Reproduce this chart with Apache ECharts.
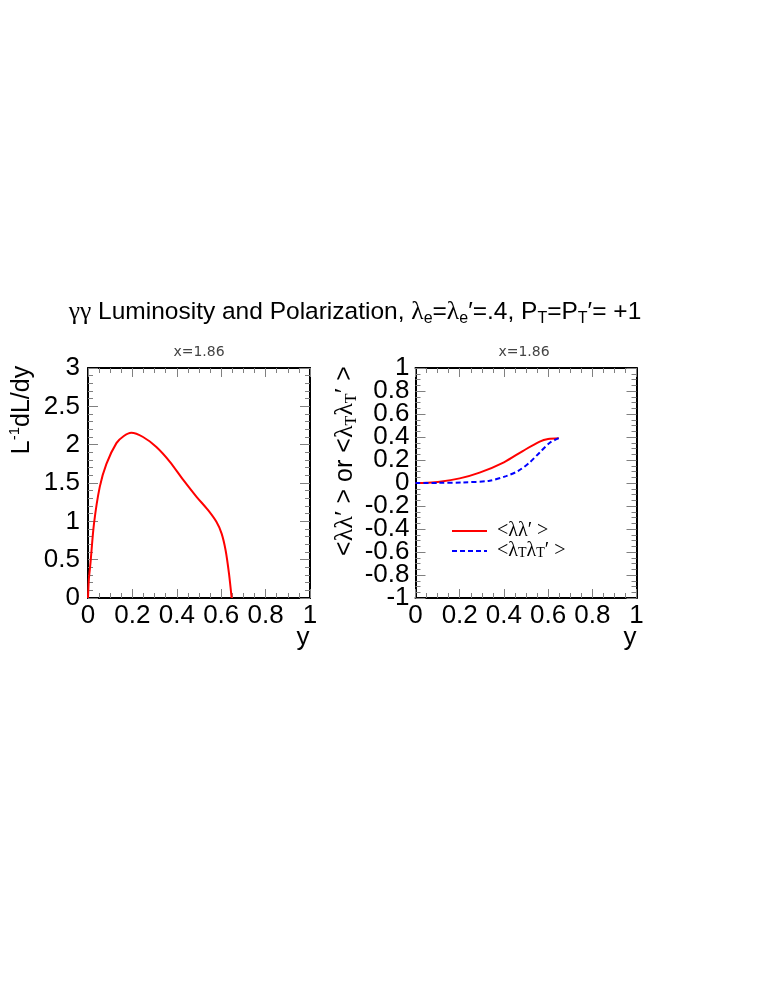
<!DOCTYPE html>
<html>
<head>
<meta charset="utf-8">
<script src="https://cdn.jsdelivr.net/npm/echarts@6/dist/echarts.min.js"></script>
<style>html,body{margin:0;padding:0;background:#fff}#c{width:763px;height:987px}</style>
</head>
<body>
<div id="c"></div>
<script>
// Left panel: luminosity spectrum
const lumX = [0, 0.004, 0.011, 0.027, 0.053, 0.083, 0.128, 0.16, 0.195, 0.248, 0.308, 0.368, 0.429, 0.489, 0.541, 0.579, 0.602, 0.62, 0.635, 0.647];
const lumY = [0, 0.25, 0.45, 0.97, 1.45, 1.75, 2.02, 2.11, 2.155, 2.10, 1.97, 1.78, 1.54, 1.32, 1.145, 0.99, 0.84, 0.62, 0.32, 0];
// Right panel: polarizations
const polX = [0, 0.05, 0.11, 0.2, 0.29, 0.4, 0.487, 0.562, 0.6, 0.648];
const polY = [0, 0.002, 0.01, 0.04, 0.09, 0.18, 0.28, 0.36, 0.383, 0.39];
const polTX = [0, 0.1, 0.214, 0.336, 0.41, 0.465, 0.517, 0.562, 0.608, 0.648];
const polTY = [0, 0.001, 0.005, 0.02, 0.06, 0.105, 0.18, 0.266, 0.35, 0.39];
const xTicks = [0, 0.2, 0.4, 0.6, 0.8, 1];
const lumTicks = [0, 0.5, 1, 1.5, 2, 2.5, 3];
const polTicks = [-1, -0.8, -0.6, -0.4, -0.2, 0, 0.2, 0.4, 0.6, 0.8, 1];

const zip = (a, b) => a.map((x, i) => [x, b[i]]);
const fmt = v => String(+(+v).toFixed(2));
const SANS = 'Liberation Sans, Arial, sans-serif';
const SERIF = 'Liberation Serif, Times New Roman, serif';
const tickGrey = '#808080';
const LABEL_FS = 26;

function xAx(grid, pos) {
  const bottom = pos === 'bottom';
  return {
    type: 'value', gridIndex: grid, position: pos,
    min: xTicks[0], max: xTicks[xTicks.length - 1], interval: xTicks[1] - xTicks[0],
    axisLine: { show: true, onZero: false, lineStyle: { color: '#000', width: 2 } },
    axisTick: { show: true, inside: true, length: 9, lineStyle: { color: tickGrey, width: 1 } },
    minorTick: { show: true, splitNumber: 4, length: 5, lineStyle: { color: tickGrey, width: 1 } },
    splitLine: { show: false },
    axisLabel: { show: bottom, color: '#000', fontFamily: SANS, fontSize: LABEL_FS, margin: 5,
      formatter: fmt, showMinLabel: true, showMaxLabel: true, hideOverlap: false }
  };
}
function yAx(grid, pos, ticks, minorSplit, showMin) {
  const left = pos === 'left';
  return {
    type: 'value', gridIndex: grid, position: pos,
    min: ticks[0], max: ticks[ticks.length - 1], interval: ticks[1] - ticks[0],
    axisLine: { show: true, onZero: false, lineStyle: { color: '#000', width: 2 } },
    axisTick: { show: true, inside: true, length: 10, lineStyle: { color: tickGrey, width: 1 } },
    minorTick: { show: true, splitNumber: minorSplit, length: 5, lineStyle: { color: tickGrey, width: 1 } },
    splitLine: { show: false },
    axisLabel: { show: left, color: '#000', fontFamily: SANS, fontSize: LABEL_FS, lineHeight: 18, margin: grid === 0 ? 8 : 6,
      formatter: fmt, showMinLabel: showMin, showMaxLabel: true, hideOverlap: false }
  };
}
// extra label-only axis carrying the bottom "-1" label of the right panel
const minLabelAxis = {
  type: 'value', gridIndex: 1, position: 'left',
  min: polTicks[0], max: polTicks[polTicks.length - 1], interval: polTicks[polTicks.length - 1] - polTicks[0],
  axisLine: { show: false }, axisTick: { show: false }, minorTick: { show: false }, splitLine: { show: false },
  axisLabel: { show: true, color: '#000', fontFamily: SANS, fontSize: LABEL_FS, lineHeight: 18, margin: 6,
    formatter: fmt, showMinLabel: true, showMaxLabel: false }
};

const subStyle = (fs, fam) => ({ fontSize: fs, fontFamily: fam, verticalAlign: 'bottom', lineHeight: fs });
const supStyle = (fs, fam) => ({ fontSize: fs, fontFamily: fam, verticalAlign: 'top', lineHeight: fs });
const noSym = { color: 'rgba(0,0,0,0)', borderColor: 'rgba(0,0,0,0)', borderWidth: 0, opacity: 0 };

const chart = echarts.init(document.getElementById('c'), null, { renderer: 'canvas' });
chart.setOption({
  animation: false,
  backgroundColor: '#fff',
  title: {
    text: '{g|γγ} Luminosity and Polarization, {g|λ}{sub|e}={g|λ}{sub|e}′=.4, P{sub|T}=P{sub|T}′= +1',
    left: 350, top: 292, textAlign: 'center',
    textStyle: {
      fontFamily: SANS, fontSize: 24.5, fontWeight: 'normal', color: '#000', lineHeight: 30,
      rich: {
        g: { fontFamily: SERIF, fontSize: 25.5, color: '#000', lineHeight: 30 },
        sub: Object.assign(subStyle(16, SANS), { color: '#000' })
      }
    }
  },
  grid: [
    { left: 88, top: 368, width: 222, height: 230, containLabel: false },
    { left: 415.5, top: 368, width: 221, height: 230, containLabel: false }
  ],
  xAxis: [xAx(0, 'bottom'), xAx(0, 'top'), xAx(1, 'bottom'), xAx(1, 'top')],
  yAxis: [yAx(0, 'left', lumTicks, 5, true), yAx(0, 'right', lumTicks, 5, true),
          yAx(1, 'left', polTicks, 4, false), yAx(1, 'right', polTicks, 4, true), minLabelAxis],
  legend: {
    left: 446, top: 516, orient: 'vertical', itemWidth: 35, itemHeight: 10, itemGap: 0,
    data: [{ name: 'll', itemStyle: noSym }, { name: 'lt', itemStyle: noSym }],
    itemStyle: noSym,
    formatter: n => n === 'll' ? '<λλ′ >' : '<λ{sub|T}λ{sub|T}′ >',
    textStyle: {
      fontFamily: SERIF, fontSize: 20, color: '#000', lineHeight: 18, padding: [0, 0, 0, 5],
      rich: { sub: Object.assign(subStyle(14, SERIF), { color: '#000' }) }
    }
  },
  series: [
    { name: 'lum', type: 'line', xAxisIndex: 0, yAxisIndex: 0, data: zip(lumX, lumY), showSymbol: false, symbol: 'none', smooth: 0.3,
      lineStyle: { color: '#ff0000', width: 2 }, itemStyle: { color: '#ff0000' } },
    { name: 'll', type: 'line', xAxisIndex: 2, yAxisIndex: 2, data: zip(polX, polY), showSymbol: false, symbol: 'none', smooth: 0.3,
      lineStyle: { color: '#ff0000', width: 2 }, itemStyle: { color: '#ff0000' } },
    { name: 'lt', type: 'line', xAxisIndex: 2, yAxisIndex: 2, data: zip(polTX, polTY), showSymbol: false, symbol: 'none', smooth: 0.3,
      lineStyle: { color: '#0000ff', width: 2, type: [5, 3] }, itemStyle: { color: '#0000ff' } }
  ],
  graphic: [
    { type: 'text', x: 199, y: 352, style: { text: 'x=1.86', fontFamily: 'DejaVu Sans', fontSize: 14, fill: '#444', align: 'center', verticalAlign: 'middle' } },
    { type: 'text', x: 524, y: 352, style: { text: 'x=1.86', fontFamily: 'DejaVu Sans', fontSize: 14, fill: '#444', align: 'center', verticalAlign: 'middle' } },
    { type: 'text', x: 303, y: 638, style: { text: 'y', fontFamily: SANS, fontSize: LABEL_FS, fill: '#000', align: 'center', verticalAlign: 'middle' } },
    { type: 'text', x: 630, y: 638, style: { text: 'y', fontFamily: SANS, fontSize: LABEL_FS, fill: '#000', align: 'center', verticalAlign: 'middle' } },
    { type: 'text', x: 22, y: 410, rotation: Math.PI / 2,
      style: { text: 'L{sup|-1}dL/dy', fontFamily: SANS, fontSize: 25, lineHeight: 30, fill: '#000', align: 'center', verticalAlign: 'middle',
        rich: { sup: Object.assign(supStyle(15, SANS), { fill: '#000', color: '#000' }) } } },
    { type: 'text', x: 345, y: 461, rotation: Math.PI / 2,
      style: { text: '<{l|λλ′} > or <{l|λ}{sub|T}{l|λ}{sub|T}{l|′} >', fontFamily: SANS, fontSize: 25, lineHeight: 30, fill: '#000', align: 'center', verticalAlign: 'middle',
        rich: {
          l: { fontFamily: SERIF, fontSize: 26, lineHeight: 30, fill: '#000', color: '#000' },
          sub: Object.assign(subStyle(16, SERIF), { fill: '#000', color: '#000' })
        } } }
  ]
});
</script>
</body>
</html>
